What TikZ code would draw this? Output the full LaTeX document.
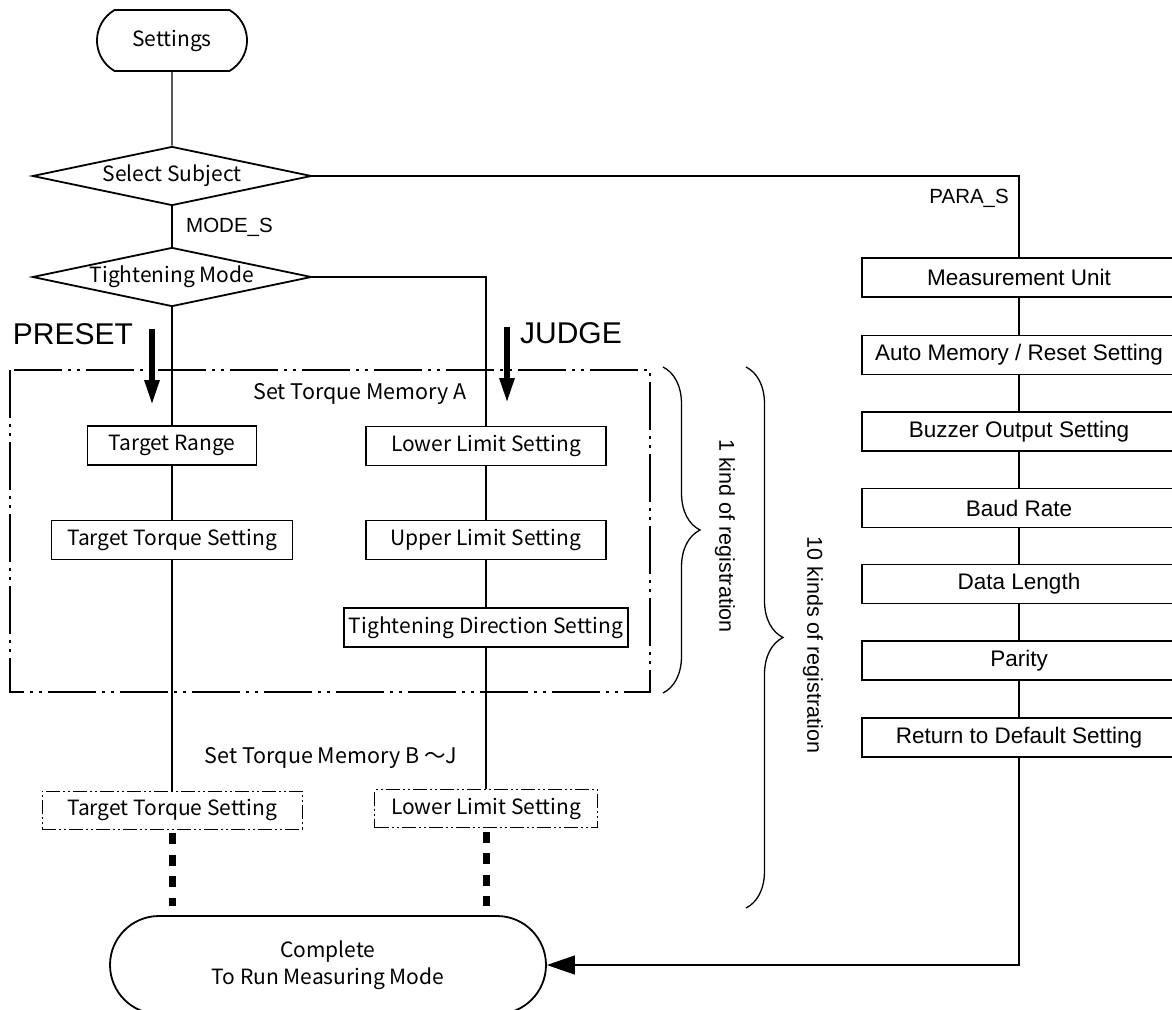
\documentclass[tikz,border=0pt]{standalone}
\usepackage{fontspec}
\setmainfont{Liberation Sans}
\newfontfamily\jpfont{Noto Sans CJK JP}
\usepackage{tikz}
\usetikzlibrary{arrows.meta, shapes.geometric, shapes.misc, decorations.pathreplacing}

\tikzset{
    flowbox/.style={draw, line width=1.8pt, minimum height=39pt, inner sep=0pt,
                    font=\jpfont\fontsize{21}{27}\selectfont},
    laterbox/.style={draw, line width=0.9pt, minimum height=38pt, inner sep=0pt,
                     dash pattern=on 14pt off 3pt on 2pt off 3pt on 2pt off 3pt,
                     font=\jpfont\fontsize{21}{27}\selectfont},
    parabox/.style={draw, line width=1.8pt, minimum width=314pt, minimum height=39pt,
                    inner sep=0pt, font=\fontsize{22.5}{26}\selectfont},
    decide/.style={draw, diamond, aspect=4.7, line width=1.8pt, inner sep=0pt,
                   minimum width=279pt, minimum height=59pt,
                   font=\jpfont\fontsize{21}{27}\selectfont},
    terminal/.style={draw, rounded rectangle, line width=1.8pt, inner sep=0pt,
                     font=\jpfont\fontsize{21}{27}\selectfont},
    conn/.style={line width=1.3pt},
    moreconn/.style={line width=7pt, dash pattern=on 11pt off 10.5pt,
                     shorten <=4pt, shorten >=9pt},
    modearrow/.style={line width=5.5pt, -{Triangle[length=25pt, width=14pt]}},
    memframe/.style={line width=1.3pt,
                     dash pattern=on 48pt off 6pt on 3pt off 6pt on 3pt off 6pt},
    regbrace/.style={line width=1.3pt, decorate, decoration={brace, amplitude=37pt}},
    lbl/.style={inner sep=0pt, font=\fontsize{20.5}{24}\selectfont},
    memlbl/.style={inner sep=0pt, font=\jpfont\fontsize{21.5}{27}\selectfont},
    reglbl/.style={inner sep=0pt, rotate=-90, font=\fontsize{21.5}{25}\selectfont},
}

\begin{document}
\begin{tikzpicture}[x=1pt, y=-1pt]
    \useasboundingbox (0,0) rectangle (1172,1009);

    \node[terminal, rounded rectangle arc length=120, minimum width=150pt, minimum height=61pt] (settings) at (172,40.5) {Settings};
    \node[decide] (selsub) at (172,176) {Select Subject};
    \node[decide] (tmode) at (172,277) {Tightening Mode};
    \node[lbl, anchor=west] (modes) at (186,227) {MODE\_S};
    \node[lbl, anchor=east] (paras) at (1009,198) {PARA\_S};

    \node[lbl, font=\fontsize{30}{34}\selectfont] (preset) at (73,334) {PRESET};
    \node[lbl, font=\fontsize{30}{34}\selectfont] (judge) at (571,333) {JUDGE};
    \coordinate (presettop) at (152,329);
    \coordinate (presetend) at (152,405);
    \coordinate (judgetop) at (507,327);
    \coordinate (judgeend) at (507,403);
    \draw[modearrow] (presettop) -- (presetend);
    \draw[modearrow] (judgetop) -- (judgeend);

    \draw[memframe] (10,370) rectangle (650,692);
    \node[memlbl] (memA) at (360,394) {Set Torque Memory A};

    \node[flowbox, minimum width=169pt] (trange) at (172,445.5) {Target Range};
    \node[flowbox, minimum width=241pt] (ttorque) at (172,540) {Target Torque Setting};
    \node[flowbox, minimum width=240pt] (lower) at (486,446) {Lower Limit Setting};
    \node[flowbox, minimum width=240pt] (upper) at (486,540) {Upper Limit Setting};
    \node[flowbox, minimum width=284pt] (tdir) at (486,627.5) {Tightening Direction Setting};

    \node[memlbl] (memB) at (331,758) {Set Torque Memory B ～J};
    \node[laterbox, minimum width=260pt] (ttorqueB) at (172,810) {Target Torque Setting};
    \node[laterbox, minimum width=223pt] (lowerB) at (486,808.5) {Lower Limit Setting};

    \node[terminal, minimum width=436pt, minimum height=98pt, align=center] (complete) at (328,965) {Complete\\To Run Measuring Mode};

    \node[parabox] (unit) at (1019,277.5) {Measurement Unit};
    \node[parabox] (automem) at (1019,355) {Auto Memory / Reset Setting};
    \node[parabox] (buzzer) at (1019,431.5) {Buzzer Output Setting};
    \node[parabox] (baud) at (1019,508) {Baud Rate};
    \node[parabox] (datalen) at (1019,584) {Data Length};
    \node[parabox] (parity) at (1019,660.5) {Parity};
    \node[parabox] (default) at (1019,737.5) {Return to Default Setting};

    \draw[conn] (settings) -- (selsub);
    \draw[conn] (selsub) -- (tmode);
    \draw[conn] (tmode) -- (trange);
    \draw[conn] (trange) -- (ttorque);
    \draw[conn] (ttorque) -- (ttorqueB);
    \draw[conn] (tmode.east) -| (lower);
    \draw[conn] (lower) -- (upper);
    \draw[conn] (upper) -- (tdir);
    \draw[conn] (tdir) -- (lowerB);
    \draw[moreconn] (ttorqueB.south) -- (ttorqueB.south |- complete.north);
    \draw[moreconn] (lowerB.south) -- (lowerB.south |- complete.north);

    \draw[conn] (selsub.east) -| (unit);
    \foreach \a/\b in {unit/automem, automem/buzzer, buzzer/baud, baud/datalen, datalen/parity, parity/default}
        \draw[conn] (\a) -- (\b);
    \draw[conn, -{Triangle[length=28pt, width=19pt]}] (default.south) |- (complete.east);

    \draw[regbrace] (663,367) -- (663,693);
    \node[reglbl] (onekind) at (725,536) {1 kind of registration};
    \draw[regbrace] (746,367) -- (746,908);
    \node[reglbl] (tenkinds) at (813,645) {10 kinds of registration};
\end{tikzpicture}
\end{document}
